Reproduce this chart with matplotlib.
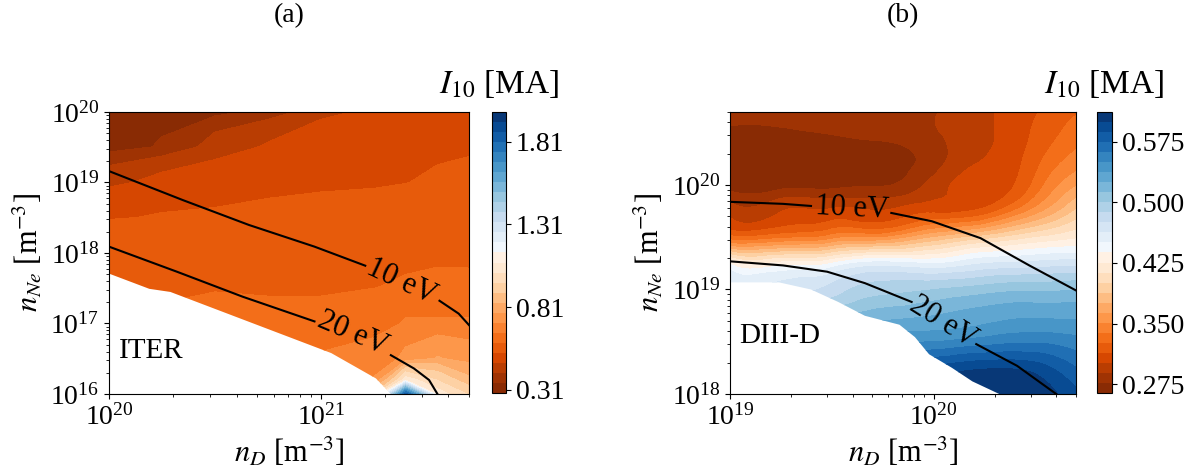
import matplotlib
matplotlib.use('Agg')
import matplotlib.pyplot as plt
import numpy as np
from matplotlib.colors import ListedColormap
from matplotlib.patches import Polygon
from matplotlib.tri import Triangulation, UniformTriRefiner

plt.rcParams['font.family'] = 'serif'
plt.rcParams['font.serif'] = ['Liberation Serif', 'DejaVu Serif']
plt.rcParams['mathtext.fontset'] = 'stix'
plt.rcParams['xtick.labelsize'] = 20
plt.rcParams['ytick.labelsize'] = 20

# ---- (a) ITER ----
nD_a = [1e20, 1.78e20, 3.16e20, 5.62e20, 1e21, 1.78e21, 2.51e21, 3.55e21, 5e21]
nNe_a = [1e16, 1.6e16, 3.2e16, 1e17, 3.2e17, 1e18, 3.2e18, 1e19, 3.2e19, 1e20]
I10_a = [
    [0.60, 0.60, 0.61, 0.63, 0.70, 0.90, 1.85, 1.05, 0.95],
    [0.60, 0.60, 0.61, 0.63, 0.70, 0.72, 1.05, 0.95, 0.85],
    [0.60, 0.60, 0.61, 0.63, 0.66, 0.675, 0.73, 0.78, 0.75],
    [0.60, 0.60, 0.61, 0.61, 0.61, 0.63, 0.66, 0.66, 0.66],
    [0.58, 0.585, 0.59, 0.585, 0.585, 0.593, 0.60, 0.605, 0.60],
    [0.56, 0.565, 0.57, 0.57, 0.57, 0.575, 0.575, 0.58, 0.585],
    [0.53, 0.536, 0.54, 0.545, 0.545, 0.55, 0.55, 0.56, 0.565],
    [0.4575, 0.497, 0.50, 0.515, 0.525, 0.527, 0.532, 0.54, 0.545],
    [0.32, 0.36, 0.445, 0.48, 0.51, 0.50, 0.51, 0.52, 0.525],
    [0.30, 0.31, 0.33, 0.38, 0.455, 0.49, 0.50, 0.505, 0.51],
]
# lowest n_Ne with a solution, per n_D
edge_a_nD = [1e20, 1.55e20, 1.95e20, 1.12e21, 1.82e21, 2.14e21]
edge_a_nNe = [5.1e17, 3.1e17, 2.8e17, 3.8e16, 1.66e16, 1e16]
# temperature contours, two pieces either side of the label
te10_a_nD = [[1e20, 2.24e20, 4.57e20, 9.33e20, 1.62e21], [3.63e21, 4.47e21, 5e21]]
te10_a_nNe = [[1.45e19, 5.6e18, 2.5e18, 1.23e18, 6.6e17], [2.1e17, 1.38e17, 9.5e16]]
te20_a_nD = [[1e20, 2.1e20, 4.27e20, 9.33e20], [2.14e21, 2.75e21, 3.24e21, 3.55e21]]
te20_a_nNe = [[1.23e18, 5.4e17, 2.4e17, 1.07e17], [3.55e16, 2.3e16, 1.58e16, 1e16]]
labels_a = [('10 eV', 2.4e21, 3.9e17, -25), ('20 eV', 1.41e21, 7.2e16, -23)]
ticks_a = [0.31, 0.81, 1.31, 1.81]

# ---- (b) DIII-D ----
nD_b = [1e19, 1.78e19, 3.16e19, 5.62e19, 1e20, 1.58e20, 2.51e20, 3.55e20, 5e20]
nNe_b = [1e18, 1.78e18, 3.16e18, 5.62e18, 1e19, 1.78e19, 3.16e19, 5.62e19,
         1e20, 1.78e20, 3.16e20, 5e20]
I10_b = [
    [0.59, 0.595, 0.60, 0.605, 0.61, 0.611, 0.611, 0.605, 0.59],
    [0.56, 0.565, 0.57, 0.58, 0.59, 0.597, 0.598, 0.59, 0.575],
    [0.53, 0.535, 0.54, 0.545, 0.55, 0.555, 0.56, 0.56, 0.555],
    [0.50, 0.505, 0.51, 0.52, 0.525, 0.53, 0.535, 0.535, 0.535],
    [0.465, 0.47, 0.48, 0.495, 0.50, 0.505, 0.51, 0.51, 0.512],
    [0.435, 0.43, 0.438, 0.455, 0.45, 0.46, 0.465, 0.468, 0.47],
    [0.33, 0.335, 0.345, 0.35, 0.375, 0.39, 0.405, 0.415, 0.423],
    [0.297, 0.301, 0.304, 0.302, 0.311, 0.315, 0.34, 0.365, 0.39],
    [0.272, 0.271, 0.272, 0.2755, 0.294, 0.305, 0.314, 0.34, 0.362],
    [0.268, 0.267, 0.268, 0.27, 0.283, 0.299, 0.31, 0.328, 0.343],
    [0.274, 0.275, 0.277, 0.28, 0.287, 0.296, 0.308, 0.32, 0.332],
    [0.283, 0.282, 0.285, 0.287, 0.288, 0.296, 0.307, 0.316, 0.325],
]
edge_b_nD = [1e19, 1.74e19, 2.5e19, 3.4e19, 4.6e19, 6.8e19, 8.1e19, 9.5e19,
             1.23e20, 1.55e20, 2.1e20]
edge_b_nNe = [1.17e19, 1.17e19, 1e19, 7.6e18, 5.6e18, 4.6e18, 3.5e18, 2.4e18,
              1.78e18, 1.32e18, 1e18]
te10_b_nD = [[1e19, 1.82e19, 2.5e19], [6.2e19, 9.8e19, 1.7e20, 2.95e20, 5e20]]
te10_b_nNe = [[6.9e19, 6.6e19, 6.3e19], [5.4e19, 4.5e19, 3.1e19, 1.7e19, 9.8e18]]
te20_b_nD = [[1e19, 1.82e19, 3.0e19, 4.6e19, 7.8e19], [1.62e20, 2.57e20, 4.0e20]]
te20_b_nNe = [[1.86e19, 1.7e19, 1.48e19, 1.15e19, 7.6e18], [3.0e18, 1.86e18, 1e18]]
labels_b = [('10 eV', 4.0e19, 6.0e19, -3), ('20 eV', 1.12e20, 4.9e18, -32)]
ticks_b = [0.275, 0.350, 0.425, 0.500, 0.575]

# orange -> white -> blue
cmap = ListedColormap(np.vstack([plt.cm.Oranges_r(np.linspace(0, 1, 128)),
                                 plt.cm.Blues(np.linspace(0, 1, 128))]))


def panel(ax, cax, nD, nNe, I10, edge_x, edge_y, te10_x, te10_y, te20_x, te20_y,
          labels, vmin, vmax, ticks, fmt, xlim, ylim, name, name_y, letter,
          smooth=False):
    levels = np.linspace(vmin, vmax, 29)
    if smooth:
        # smooth the coarse grid with matplotlib's tri refiner (in log space)
        lx, ly = np.meshgrid(np.log10(nD), np.log10(nNe))
        tri = Triangulation(lx.ravel(), ly.ravel())
        tri_f, z_f = UniformTriRefiner(tri).refine_field(np.ravel(I10), subdiv=3)
        z_f = np.clip(z_f, vmin + 1e-4, vmax - 1e-4)
        tri_p = Triangulation(10**tri_f.x, 10**tri_f.y, tri_f.triangles)
        cs = ax.tricontourf(tri_p, z_f, levels=levels, cmap=cmap)
    else:
        cs = ax.contourf(nD, nNe, I10, levels=levels, cmap=cmap)
    verts = list(zip(edge_x, edge_y)) + [(edge_x[-1], ylim[0] / 10),
                                         (xlim[1] * 10, ylim[0] / 10),
                                         (xlim[1] * 10, ylim[1] * 10),
                                         (xlim[0] / 10, ylim[1] * 10),
                                         (xlim[0] / 10, edge_y[0])]
    clip = Polygon(verts, closed=True, transform=ax.transData)
    cs.set_clip_path(clip)
    for xs, ys in zip(te10_x + te20_x, te10_y + te20_y):
        ax.plot(xs, ys, 'k-', lw=1.5)
    for txt, x, y, rot in labels:
        ax.text(x, y, txt, fontsize=22, rotation=rot, ha='center', va='center')
    ax.set_xscale('log')
    ax.set_yscale('log')
    ax.set_xlim(xlim)
    ax.set_ylim(ylim)
    ax.set_xlabel(r'$n_D$ [m$^{-3}$]', fontsize=22)
    ax.set_ylabel(r'$n_{Ne}$ [m$^{-3}$]', fontsize=22)
    ax.text(0.027, name_y, name, transform=ax.transAxes, fontsize=21,
            va='baseline')
    ax.text(0.5, 1.34, letter, transform=ax.transAxes, fontsize=20,
            ha='center', va='center')
    cb = fig.colorbar(cs, cax=cax, ticks=ticks, format=fmt)
    cb.ax.tick_params(labelsize=20)
    cb.ax.set_title(r'$I_{10}$ [MA]', fontsize=24, pad=14)


fig = plt.figure(figsize=(12, 4.72), dpi=100)
ax_a = fig.add_axes([0.0908, 0.1653, 0.3, 0.5975])
cax_a = fig.add_axes([0.41, 0.1674, 0.0117, 0.5953])
ax_b = fig.add_axes([0.6083, 0.1653, 0.2883, 0.5975])
cax_b = fig.add_axes([0.9142, 0.1674, 0.0125, 0.5953])

panel(ax_a, cax_a, nD_a, nNe_a, I10_a, edge_a_nD, edge_a_nNe,
      te10_a_nD, te10_a_nNe, te20_a_nD, te20_a_nNe, labels_a,
      0.29, 1.99, ticks_a, '%.2f', (1e20, 5e21), (1e16, 1e20), 'ITER', 0.128, '(a)')
panel(ax_b, cax_b, nD_b, nNe_b, I10_b, edge_b_nD, edge_b_nNe,
      te10_b_nD, te10_b_nNe, te20_b_nD, te20_b_nNe, labels_b,
      0.264, 0.612, ticks_b, '%.3f', (1e19, 5e20), (1e18, 5e20), 'DIII-D', 0.18, '(b)',
      smooth=True)

fig.savefig('out.png', dpi=100)
